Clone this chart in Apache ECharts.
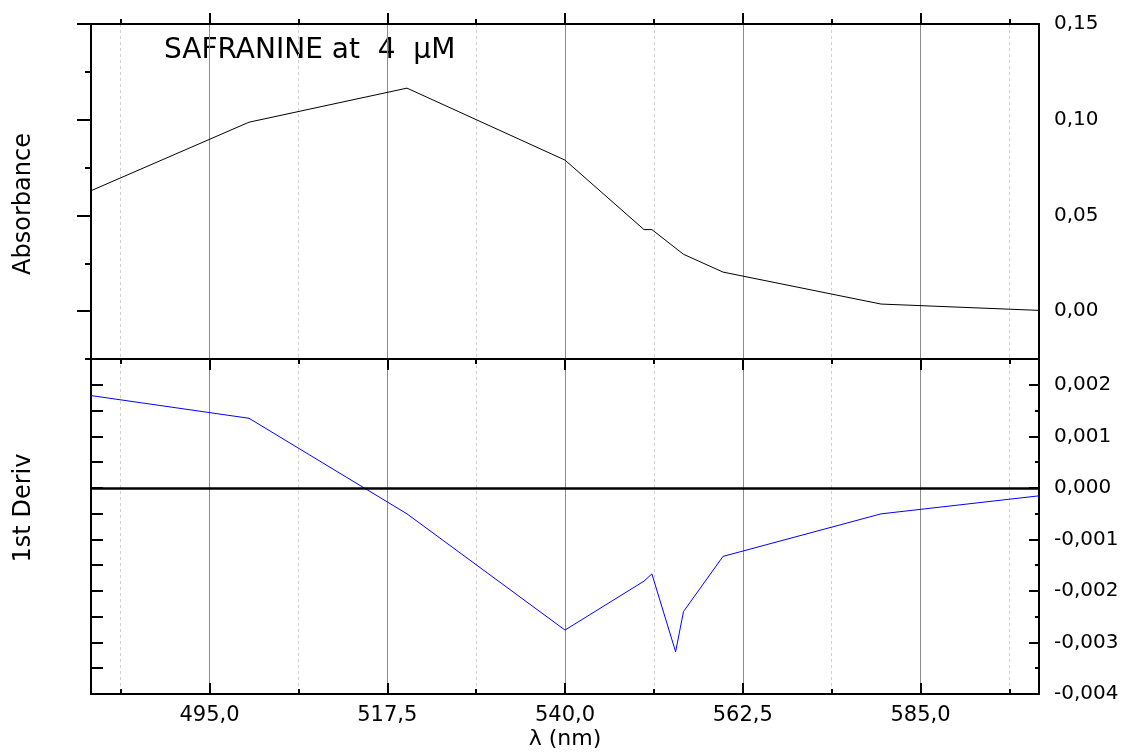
<!DOCTYPE html>
<html lang="en">
<head>
<meta charset="UTF-8">
<title>Safranine absorbance and first derivative</title>
<style>html, body { margin: 0; padding: 0; background: #fff; }</style>
</head>
<body>
<div id="main" style="width:1123px;height:755px"></div>
<script src="https://cdn.jsdelivr.net/npm/echarts@6/dist/echarts.min.js"></script>
<script>
// values
const absWavelength = [480, 500, 520, 540, 550, 551, 555, 560, 580, 600];
const absorbance = [0.0629, 0.0987, 0.1165, 0.0789, 0.0426, 0.0426, 0.0297, 0.0204, 0.0037, 0.0004];
const derivWavelength = [480, 500, 520, 540, 550, 551, 554, 555, 560, 580, 600];
const firstDeriv = [0.00179, 0.00135, -0.000505, -0.00276, -0.00181, -0.00167, -0.00318, -0.0024, -0.00133, -0.000505, -0.000155];

const xMajorTicks = [495, 517.5, 540, 562.5, 585];
const xMinorTicks = [483.75, 506.25, 528.75, 551.25, 573.75, 596.25];
const absMajorTicks = [0, 0.05, 0.10, 0.15];
const absMinorTicks = [-0.025, 0.025, 0.075, 0.125];
const derivMajorTicks = [-0.004, -0.003, -0.002, -0.001, 0, 0.001, 0.002];
const derivMinorTicks = [-0.0035, -0.0025, -0.0015, -0.0005, 0.0005, 0.0015];

const font = 'DejaVu Sans';
const majorGrid = { color: '#8c8c8c', width: 1 };
const minorGrid = { color: '#cfcfcf', width: 1, type: [3, 3] };

function comma(v, d) {
    return v.toFixed(d).replace('.', ',');
}

function xAxis(grid, pos, ticks, len, inside, showLine, split, labels) {
    return {
        type: 'value', gridIndex: grid, position: pos, min: 480, max: 600,
        axisLine: { show: showLine, onZero: false, lineStyle: { color: '#000', width: 2 } },
        axisTick: { show: true, customValues: ticks, length: len, inside: inside, lineStyle: { color: '#000', width: 2 } },
        axisLabel: labels
            ? { customValues: ticks, margin: 11, color: '#000', fontFamily: font, fontSize: 21, formatter: v => comma(v, 1) }
            : { show: false },
        splitLine: split ? { show: true, lineStyle: split } : { show: false }
    };
}

function yAxis(grid, pos, min, max, ticks, len, inside, showLine, labelDigits) {
    return {
        type: 'value', gridIndex: grid, position: pos, min: min, max: max,
        axisLine: { show: showLine, onZero: false, lineStyle: { color: '#000', width: 2 } },
        axisTick: ticks
            ? { show: true, customValues: ticks, length: len, inside: inside, lineStyle: { color: '#000', width: 2 } }
            : { show: false },
        axisLabel: labelDigits
            ? { customValues: labelDigits.values, margin: 15, color: '#000', fontFamily: font, fontSize: 20, formatter: v => comma(v, labelDigits.d) }
            : { show: false },
        splitLine: { show: false }
    };
}

const chart = echarts.init(document.getElementById('main'));

const xBottom = xAxis(1, 'bottom', xMajorTicks, 11, true, true, majorGrid, true);
xBottom.name = 'λ (nm)';
xBottom.nameLocation = 'middle';
xBottom.nameGap = 34;
xBottom.nameTextStyle = { color: '#000', fontFamily: font, fontSize: 22 };

const option = {
    animation: false,
    grid: [
        { left: 91, top: 24, width: 948, height: 335 },
        { left: 91, top: 359, width: 948, height: 335 }
    ],
    xAxis: [
        xAxis(0, 'bottom', xMajorTicks, 11, false, true, majorGrid, false),
        xAxis(0, 'bottom', xMinorTicks, 5, false, false, minorGrid, false),
        xAxis(0, 'top', xMajorTicks, 11, false, true, null, false),
        xAxis(0, 'top', xMinorTicks, 5, false, false, null, false),
        xBottom,
        xAxis(1, 'bottom', xMinorTicks, 5, true, false, minorGrid, false)
    ],
    yAxis: [
        yAxis(0, 'left', -0.025, 0.15, absMajorTicks, 14, false, true, null),
        yAxis(0, 'left', -0.025, 0.15, absMinorTicks, 6, false, false, null),
        yAxis(0, 'right', -0.025, 0.15, null, 0, false, true, { values: absMajorTicks, d: 2 }),
        yAxis(1, 'left', -0.004, 0.0025, derivMajorTicks.concat(derivMinorTicks), 12, true, true, null),
        yAxis(1, 'right', -0.004, 0.0025, derivMajorTicks, 10, true, true, { values: derivMajorTicks, d: 3 }),
        yAxis(1, 'right', -0.004, 0.0025, derivMinorTicks, 4, true, false, null)
    ],
    series: [
        {
            type: 'line',
            xAxisIndex: 0,
            yAxisIndex: 0,
            data: absWavelength.map((x, i) => [x, absorbance[i]]),
            showSymbol: false,
            symbol: 'none',
            lineStyle: { color: '#000', width: 1 },
            itemStyle: { color: '#000' }
        },
        {
            type: 'line',
            xAxisIndex: 4,
            yAxisIndex: 3,
            data: derivWavelength.map((x, i) => [x, firstDeriv[i]]),
            showSymbol: false,
            symbol: 'none',
            lineStyle: { color: '#0000ff', width: 1 },
            itemStyle: { color: '#0000ff' },
            markLine: {
                silent: true,
                symbol: 'none',
                label: { show: false },
                lineStyle: { color: '#000', width: 2.5, type: 'solid' },
                data: [{ yAxis: 0 }]
            }
        }
    ],
    graphic: [
        {
            type: 'text', left: 164, top: 37,
            style: { text: 'SAFRANINE at  4  µM', font: '28px "DejaVu Sans"', fill: '#000' }
        },
        {
            type: 'text', x: 24, y: 204, rotation: Math.PI / 2,
            style: { text: 'Absorbance', font: '24px "DejaVu Sans"', fill: '#000', textAlign: 'center', textVerticalAlign: 'middle' }
        },
        {
            type: 'text', x: 24, y: 508, rotation: Math.PI / 2,
            style: { text: '1st Deriv', font: '24px "DejaVu Sans"', fill: '#000', textAlign: 'center', textVerticalAlign: 'middle' }
        }
    ]
};

chart.setOption(option);
</script>
</body>
</html>
